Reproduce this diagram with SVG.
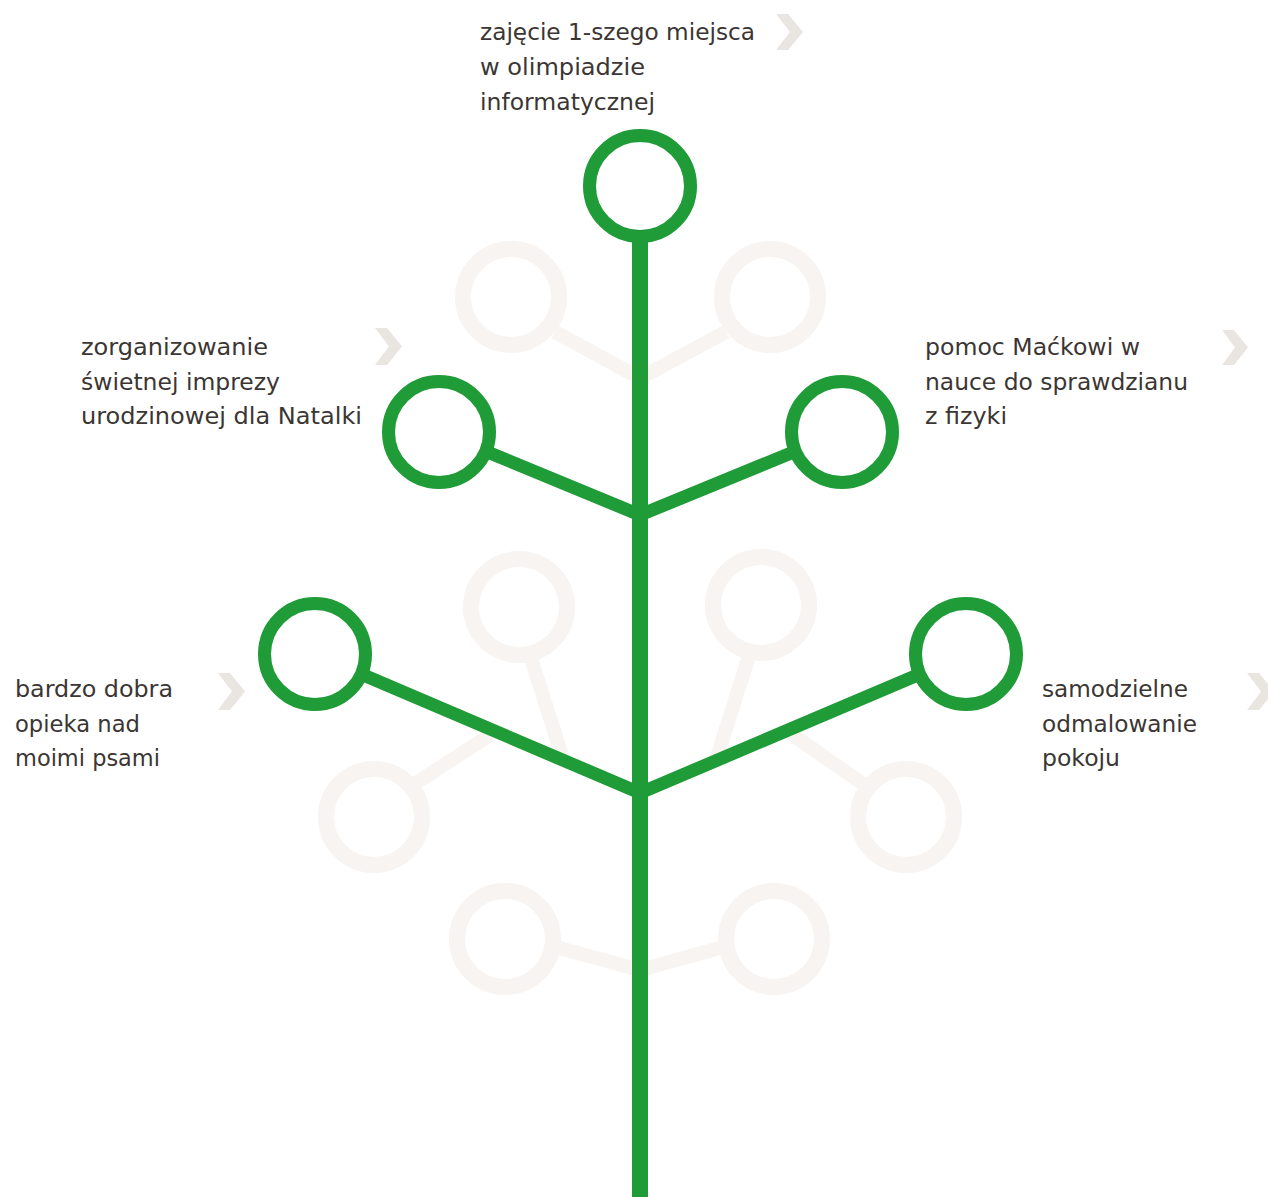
<svg xmlns="http://www.w3.org/2000/svg" width="1268" height="1197" viewBox="0 0 1268 1197">
<style>
.bg{fill:#ffffff}
.faint{fill:none;stroke:#f7f4f1;stroke-width:16}
.fline{fill:none;stroke:#f7f4f1;stroke-width:14}
.ring{fill:none;stroke:#1f9b37;stroke-width:13}
.branch{fill:none;stroke:#1f9b37;stroke-width:13;stroke-linejoin:miter;stroke-miterlimit:10}
.trunk{fill:none;stroke:#1f9b37;stroke-width:16}
.lbl{font-family:"DejaVu Sans","Liberation Sans",sans-serif;font-size:23px;fill:#3b3633}
.chev{fill:#e9e5e0}
</style>
<rect class="bg" x="0" y="0" width="1268" height="1197"/>
<g id="faded">
<circle class="faint" cx="511" cy="297" r="48"/>
<circle class="faint" cx="770" cy="297" r="48"/>
<circle class="faint" cx="519" cy="607" r="48"/>
<circle class="faint" cx="761" cy="605" r="48"/>
<circle class="faint" cx="374" cy="817" r="48"/>
<circle class="faint" cx="906" cy="817" r="48"/>
<circle class="faint" cx="505" cy="939" r="48"/>
<circle class="faint" cx="774" cy="939" r="48"/>
<line class="fline" x1="555" y1="332" x2="640" y2="378"/>
<line class="fline" x1="726" y1="332" x2="640" y2="378"/>
<line class="fline" x1="530" y1="655" x2="564" y2="762"/>
<line class="fline" x1="750" y1="653" x2="716" y2="760"/>
<line class="fline" x1="413" y1="785" x2="490" y2="735"/>
<line class="fline" x1="866" y1="786" x2="790" y2="733"/>
<line class="fline" x1="552" y1="946" x2="640" y2="970"/>
<line class="fline" x1="727" y1="946" x2="640" y2="970"/>
</g>
<g id="connectors">
<line class="trunk" x1="640" y1="236" x2="640" y2="1197"/>
<polyline class="branch" points="485,451 640,515 796,451"/>
<polyline class="branch" points="361,674 640,793 920,674"/>
</g>
<g id="node-top">
<circle class="ring" cx="640" cy="186" r="50.5"/>
<text class="lbl" x="480" y="40" textLength="275" lengthAdjust="spacingAndGlyphs">zajęcie 1-szego miejsca</text>
<text class="lbl" x="480" y="75" textLength="165" lengthAdjust="spacingAndGlyphs">w olimpiadzie</text>
<text class="lbl" x="480" y="110" textLength="175" lengthAdjust="spacingAndGlyphs">informatycznej</text>
<polygon class="chev" points="776,14 788,14 803,32 788,50 776,50 790,32"/>
</g>
<g id="node-mid-left">
<circle class="ring" cx="439" cy="432" r="50.5"/>
<text class="lbl" x="81" y="355" textLength="187" lengthAdjust="spacingAndGlyphs">zorganizowanie</text>
<text class="lbl" x="81" y="390" textLength="199" lengthAdjust="spacingAndGlyphs">świetnej imprezy</text>
<text class="lbl" x="81" y="424" textLength="281" lengthAdjust="spacingAndGlyphs">urodzinowej dla Natalki</text>
<polygon class="chev" points="375,328 387,328 402,346.5 387,365 375,365 389,346.5"/>
</g>
<g id="node-mid-right">
<circle class="ring" cx="842" cy="432" r="50.5"/>
<text class="lbl" x="925" y="355" textLength="215" lengthAdjust="spacingAndGlyphs">pomoc Maćkowi w</text>
<text class="lbl" x="925" y="390" textLength="263" lengthAdjust="spacingAndGlyphs">nauce do sprawdzianu</text>
<text class="lbl" x="925" y="424" textLength="82" lengthAdjust="spacingAndGlyphs">z fizyki</text>
<polygon class="chev" points="1222,330 1234,330 1248,347.5 1234,365 1222,365 1235,347.5"/>
</g>
<g id="node-low-left">
<circle class="ring" cx="315" cy="654" r="50.5"/>
<text class="lbl" x="15" y="697" textLength="158" lengthAdjust="spacingAndGlyphs">bardzo dobra</text>
<text class="lbl" x="15" y="732" textLength="125" lengthAdjust="spacingAndGlyphs">opieka nad</text>
<text class="lbl" x="15" y="766" textLength="145" lengthAdjust="spacingAndGlyphs">moimi psami</text>
<polygon class="chev" points="218,673 230,673 245,691.5 230,710 218,710 232,691.5"/>
</g>
<g id="node-low-right">
<circle class="ring" cx="966" cy="654" r="50.5"/>
<text class="lbl" x="1042" y="697" textLength="146" lengthAdjust="spacingAndGlyphs">samodzielne</text>
<text class="lbl" x="1042" y="732" textLength="155" lengthAdjust="spacingAndGlyphs">odmalowanie</text>
<text class="lbl" x="1042" y="766" textLength="78" lengthAdjust="spacingAndGlyphs">pokoju</text>
<polygon class="chev" points="1247,673 1259,673 1274,691.5 1259,710 1247,710 1261,691.5"/>
</g>
</svg>
